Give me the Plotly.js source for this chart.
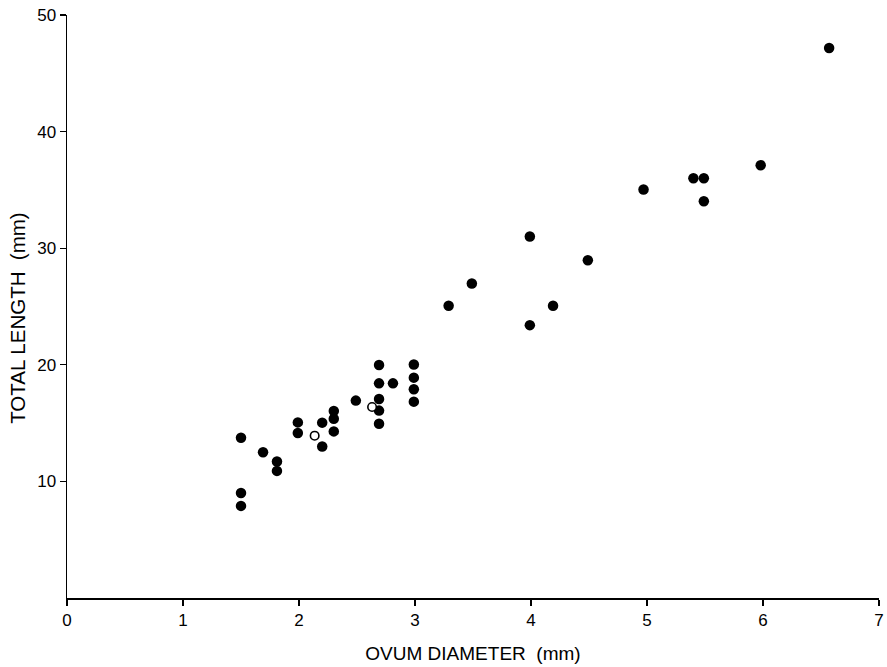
<!DOCTYPE html>
<html>
<head>
<meta charset="utf-8">
<script src="https://cdn.plot.ly/plotly-3.0.1.min.js"></script>
<style>html,body{margin:0;padding:0;background:#fff;}#chart{width:887px;height:667px;}</style>
</head>
<body>
<div id="chart"></div>
<script>
// Filled points: ovum diameter (mm) vs total length (mm)
const filledDiameter = [1.5, 1.5, 1.5, 1.69, 1.81, 1.81, 1.99, 1.99, 2.2, 2.2, 2.3, 2.3, 2.3, 2.49,
  2.69, 2.69, 2.69, 2.69, 2.69, 2.81, 2.99, 2.99, 2.99, 2.99,
  3.29, 3.49, 3.99, 3.99, 4.19, 4.49, 4.97, 5.4, 5.49, 5.49, 5.98, 6.57];
const filledLength = [13.75, 9.0, 7.9, 12.5, 11.7, 10.9, 15.06, 14.15, 15.04, 13.0, 16.04, 15.38, 14.29, 16.93,
  19.98, 18.41, 17.07, 16.07, 14.95, 18.41, 20.02, 18.9, 17.9, 16.84,
  25.06, 26.97, 31.0, 23.4, 25.06, 28.97, 35.04, 36.0, 36.0, 34.03, 37.12, 47.17];
// Open points
const openDiameter = [2.135, 2.63];
const openLength = [13.92, 16.38];

const xTicks = [0, 1, 2, 3, 4, 5, 6, 7];
const yTicks = [10, 20, 30, 40, 50];

const fontFam = '"Liberation Sans", Arial, sans-serif';

const traces = [
  {
    x: filledDiameter, y: filledLength, type: 'scatter', mode: 'markers',
    marker: {color: '#000', size: 10.5, line: {width: 0}},
    cliponaxis: false, hoverinfo: 'x+y'
  },
  {
    x: openDiameter, y: openLength, type: 'scatter', mode: 'markers',
    marker: {color: '#fff', size: 8.5, line: {color: '#000', width: 1.6}},
    cliponaxis: false, hoverinfo: 'x+y'
  }
];

const layout = {
  width: 887, height: 667,
  margin: {l: 67, r: 8, t: 15, b: 69},
  paper_bgcolor: '#fff', plot_bgcolor: '#fff',
  showlegend: false,
  font: {family: fontFam, color: '#000'},
  xaxis: {
    range: [0, 7], tickvals: xTicks, ticktext: xTicks.map(String),
    showgrid: false, zeroline: false, showline: true, linecolor: '#000', linewidth: 1.5,
    ticks: 'outside', ticklen: 6, tickwidth: 1.2, tickcolor: '#000',
    tickfont: {size: 17, family: fontFam},
    title: {text: 'OVUM DIAMETER  (mm)', font: {size: 19, family: fontFam}, standoff: 18}
  },
  yaxis: {
    range: [0, 50], tickvals: yTicks, ticktext: yTicks.map(String),
    showgrid: false, zeroline: false, showline: true, linecolor: '#000', linewidth: 1.5,
    ticks: 'outside', ticklen: 6, tickwidth: 1.2, tickcolor: '#000',
    tickfont: {size: 17, family: fontFam}
  },
  annotations: [{
    text: 'TOTAL LENGTH  (mm)', xref: 'paper', yref: 'paper',
    x: -0.0603, y: 0.479, xanchor: 'center', yanchor: 'middle',
    textangle: -90, showarrow: false,
    font: {size: 20.5, family: fontFam, color: '#000'}
  }]
};

Plotly.newPlot('chart', traces, layout, {displayModeBar: false, staticPlot: true});
</script>
</body>
</html>
